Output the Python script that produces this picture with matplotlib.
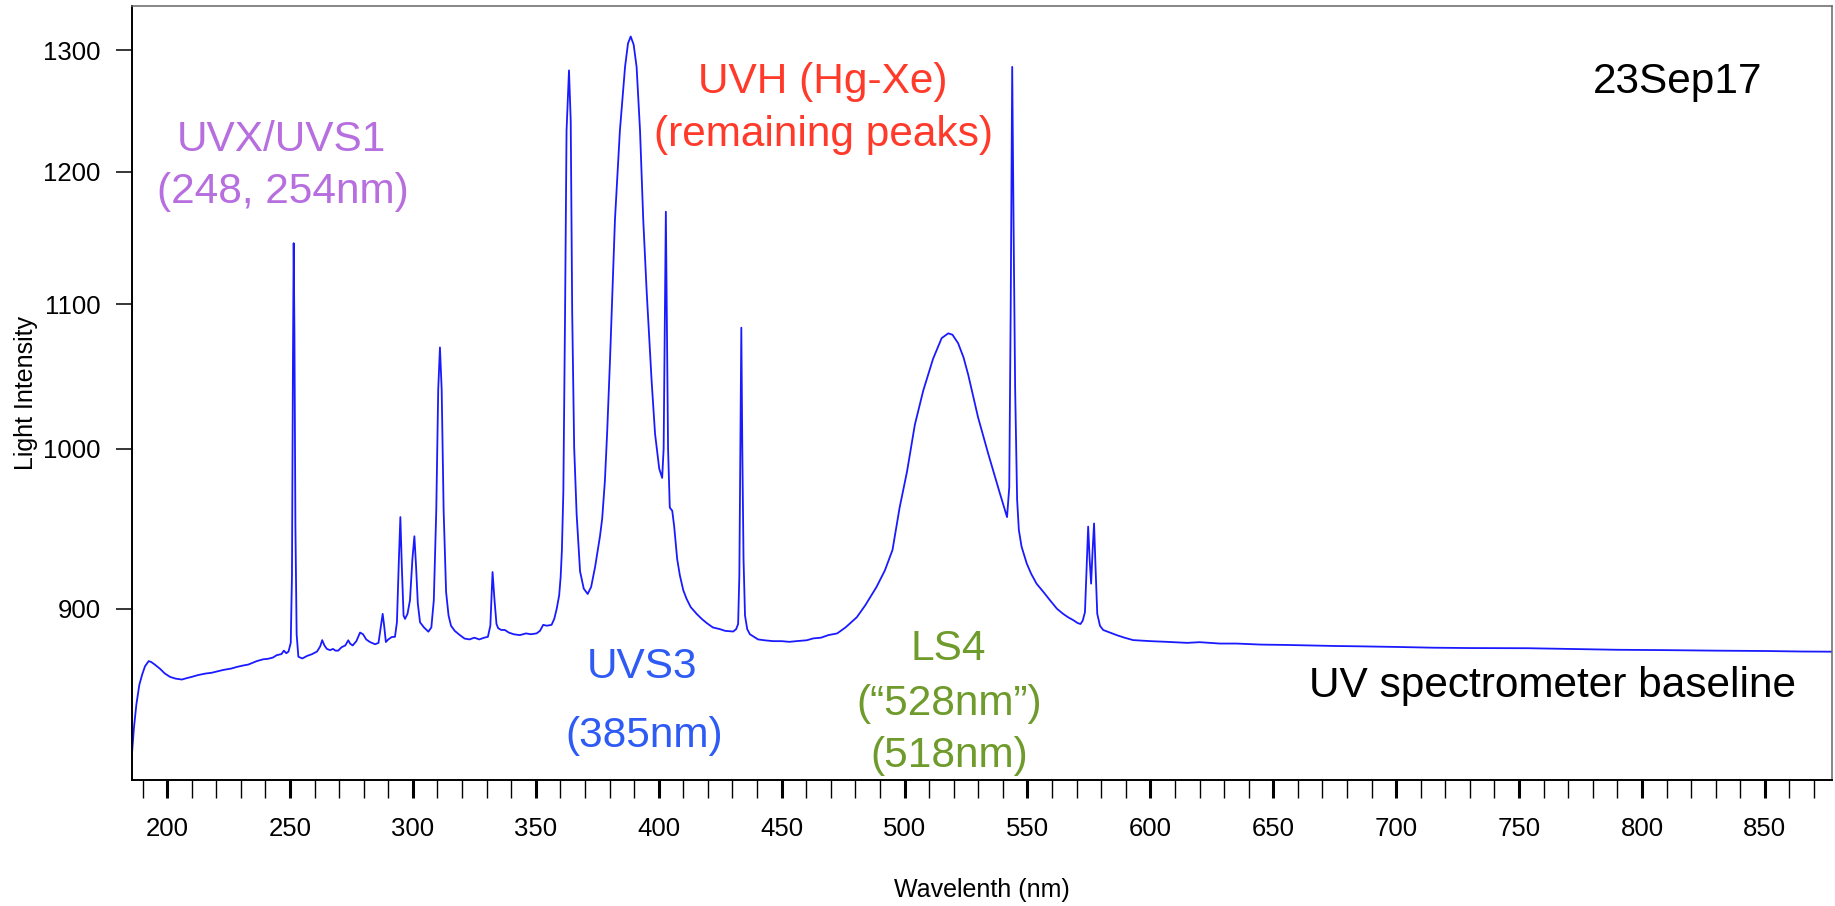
import matplotlib
matplotlib.use('Agg')
import matplotlib.pyplot as plt

plt.rcParams['font.family'] = ['Liberation Sans', 'DejaVu Sans']

# spectrum: wavelength (nm) and light intensity
wavelength = [
    185.6, 186.5, 187.5, 188.7, 189.9, 191.0, 192.5, 193.5, 195.0, 197.2,
    199.0, 201.2, 203.5, 206.0, 208.0, 210.0, 212.5, 215.6, 218.0, 220.0,
    223.0, 226.0, 228.5, 231.0, 233.0, 236.5, 239.0, 241.0, 243.0, 244.6,
    246.5, 247.5, 248.5, 249.4, 250.3, 250.8, 251.2, 251.5, 251.8, 252.2,
    252.7, 253.4, 255.0, 257.0, 259.0, 261.0, 262.3, 263.1, 264.0, 265.0,
    266.3, 267.5, 268.5, 269.6, 271.0, 272.5, 273.7, 274.5, 275.5, 277.0,
    278.5, 279.7, 281.0, 282.5, 284.6, 286.0, 287.0, 287.7, 288.3, 289.0,
    290.0, 291.4, 292.7, 293.5, 294.3, 294.9, 295.5, 296.2, 296.8, 297.8,
    298.8, 299.8, 300.6, 301.3, 302.0, 302.9, 304.5, 306.3, 307.5, 308.5,
    309.5, 310.3, 311.0, 311.7, 312.5, 313.5, 314.5, 315.5, 317.0, 319.1,
    321.0, 323.0, 325.0, 327.0, 329.0, 330.5, 331.5, 332.4, 333.2, 334.0,
    334.7, 336.0, 337.4, 339.0, 341.0, 343.5, 346.0, 348.0, 350.3, 351.7,
    353.0, 354.5, 356.4, 357.5, 358.5, 359.5, 360.1, 360.6, 361.2, 361.9,
    362.5, 363.5, 364.2, 364.8, 365.6, 366.6, 368.0, 369.5, 371.1, 372.5,
    374.1, 376.1, 377.0, 378.1, 379.0, 380.2, 382.2, 384.2, 386.3, 387.5,
    388.6, 389.8, 391.0, 392.4, 393.7, 395.1, 397.1, 398.5, 400.2, 401.4,
    402.0, 402.5, 402.9, 403.3, 403.8, 404.5, 405.5, 406.3, 407.5, 408.6,
    410.0, 411.3, 413.0, 415.4, 417.5, 419.5, 422.0, 424.9, 427.0, 430.3,
    431.5, 432.3, 432.8, 433.2, 433.6, 434.0, 434.5, 435.1, 436.0, 437.1,
    440.4, 443.0, 446.6, 450.0, 453.1, 456.0, 460.2, 462.9, 466.0, 469.0,
    472.6, 476.0, 480.6, 484.0, 488.6, 492.0, 495.1, 498.0, 501.0, 504.2,
    507.6, 511.6, 515.1, 517.8, 519.5, 521.8, 524.0, 525.9, 529.9, 534.0,
    538.8, 541.7, 542.6, 543.2, 543.8, 544.4, 545.0, 545.8, 546.5, 547.6,
    549.7, 551.5, 553.7, 556.5, 559.2, 562.0, 564.5, 566.5, 568.6, 570.5,
    571.6, 572.5, 573.4, 574.2, 574.7, 575.3, 575.9, 576.5, 577.1, 577.7,
    578.4, 579.5, 580.8, 583.5, 586.3, 589.5, 593.0, 600.0, 606.6, 615.0,
    620.0, 628.3, 635.0, 645.0, 655.0, 665.0, 675.0, 685.0, 701.5, 715.0,
    730.0, 753.6, 770.0, 790.0, 810.0, 830.0, 850.0, 865.0, 877.3,
]
intensity = [
    816, 832, 845, 856, 862, 866.5, 869.5, 869, 867.5, 865,
    862.5, 860.5, 859.5, 859, 859.8, 860.5, 861.5, 862.4, 862.8, 863.5,
    864.5, 865.2, 866.2, 867, 867.5, 869.5, 870.5, 870.8, 871.5, 872.9,
    873.5, 875.5, 874, 875, 880, 920, 1060, 1145, 1080, 950,
    885, 872, 871, 872.5, 873.5, 875, 878, 881.6, 878.5, 876.5,
    875.8, 876.5, 875.5, 875.5, 877.5, 878.5, 881.5, 879.5, 878.5, 881,
    886, 885, 882, 880.5, 879.2, 880, 890, 897, 890, 880.5,
    882, 883.4, 883.5, 892, 930, 956, 925, 896, 894, 897,
    905, 930, 944, 925, 903, 892, 889, 886.5, 889, 905,
    960, 1040, 1069, 1040, 960, 910, 896, 890, 887, 884.5,
    882.5, 882, 883, 882, 883, 883.5, 890, 922, 905, 891,
    888.5, 887.5, 887.5, 886, 885, 884.5, 885.5, 885, 885.5, 887,
    890.5, 890, 890.5, 894, 900, 908, 919, 935, 972, 1094,
    1233, 1283, 1241, 1094, 1001, 958, 922.4, 912, 908.8, 913,
    925, 944, 955, 979, 1010, 1061, 1163, 1233, 1286, 1306,
    1312, 1305, 1286, 1233, 1163, 1109, 1046, 1010, 987, 981,
    1000, 1090, 1169, 1090, 1000, 962, 960, 950, 930, 920,
    911, 906, 901, 897, 894, 891.6, 889, 888, 887, 886.6,
    888, 891, 920, 1000, 1083, 1000, 930, 896, 888, 885,
    882, 881.5, 881, 881, 880.6, 881, 881.5, 882.6, 883, 884.5,
    885.5, 889, 895, 902, 913, 923, 935.5, 962, 985, 1016,
    1039, 1061, 1075.6, 1079, 1078, 1072, 1062, 1050, 1021, 997,
    971, 956, 975, 1100, 1286, 1150, 1040, 967, 948, 937.6,
    927.3, 921, 915, 910, 905, 900, 897, 895, 893.3, 891.5,
    891, 893, 898, 930, 950, 930, 915, 935, 952, 925,
    897, 890, 887.5, 886, 884.5, 883, 881.6, 881, 880.6, 880,
    880.4, 879.6, 879.6, 879, 878.8, 878.5, 878.2, 878, 877.6, 877.2,
    877, 876.9, 876.5, 876, 875.8, 875.5, 875.3, 875, 874.9,
]

yticks = [900, 1000, 1100, 1200, 1300]
xticks_major = list(range(200, 851, 50))
xticks_minor = [w for w in range(190, 871, 10) if w % 50]

fig = plt.figure(figsize=(18.35, 9.06), dpi=100)
ax = fig.add_axes([0.07177, 0.13907, 0.92659, 0.85430])

ax.plot(wavelength, intensity, color='#1a1aff', lw=1.3)

ax.set_yscale('log')
ax.set_xlim(185.6, 877.3)
ax.set_ylim(804, 1338.6)

ax.set_yticks(yticks, labels=[str(t) for t in yticks])
ax.yaxis.set_minor_locator(plt.NullLocator())
ax.set_xticks(xticks_major, labels=[str(t) for t in xticks_major])
ax.set_xticks(xticks_minor, minor=True)

ax.tick_params(axis='x', which='major', length=12.7, width=2.2, pad=14, labelsize=18.5)
ax.tick_params(axis='x', which='minor', length=12.7, width=1.0)
ax.tick_params(axis='y', which='major', length=11.5, width=1.1, pad=11, labelsize=18.5)

for side in ['left', 'bottom']:
    ax.spines[side].set_linewidth(1.4)
    ax.spines[side].set_color('black')
for side in ['top', 'right']:
    ax.spines[side].set_linewidth(1.1)
    ax.spines[side].set_color('#666666')

ax.set_ylabel('Light Intensity', fontsize=18)
ax.yaxis.set_label_coords(-0.055, 0.5)
ax.set_xlabel('Wavelenth (nm)', fontsize=18)
ax.xaxis.set_label_coords(0.5, -0.126)

fs = 30.5
ax.text(246.7, 1216.3, 'UVX/UVS1', color='#b76edf', fontsize=fs, ha='center', va='baseline')
ax.text(247.1, 1175.5, '(248, 254nm)', color='#b76edf', fontsize=fs, ha='center', va='baseline')
ax.text(466.8, 1264, 'UVH (Hg-Xe)', color='#ff3a2a', fontsize=fs, ha='center', va='baseline')
ax.text(467.2, 1220.3, '(remaining peaks)', color='#ff3a2a', fontsize=fs, ha='center', va='baseline')
ax.text(814.6, 1264, '23Sep17', color='black', fontsize=fs, ha='center', va='baseline')
ax.text(393.2, 859.6, 'UVS3', color='#2f5bf5', fontsize=fs, ha='center', va='baseline')
ax.text(394.0, 821.8, '(385nm)', color='#2f5bf5', fontsize=fs, ha='center', va='baseline')
ax.text(517.6, 870.0, 'LS4', color='#6e9b2b', fontsize=fs, ha='center', va='baseline')
ax.text(518.0, 839.1, '(\u201c528nm\u201d)', color='#6e9b2b', fontsize=fs, ha='center', va='baseline')
ax.text(518.0, 811.0, '(518nm)', color='#6e9b2b', fontsize=fs, ha='center', va='baseline')
ax.text(763.6, 849.2, 'UV spectrometer baseline', color='black', fontsize=fs, ha='center', va='baseline')

plt.savefig('out.png', dpi=100)
